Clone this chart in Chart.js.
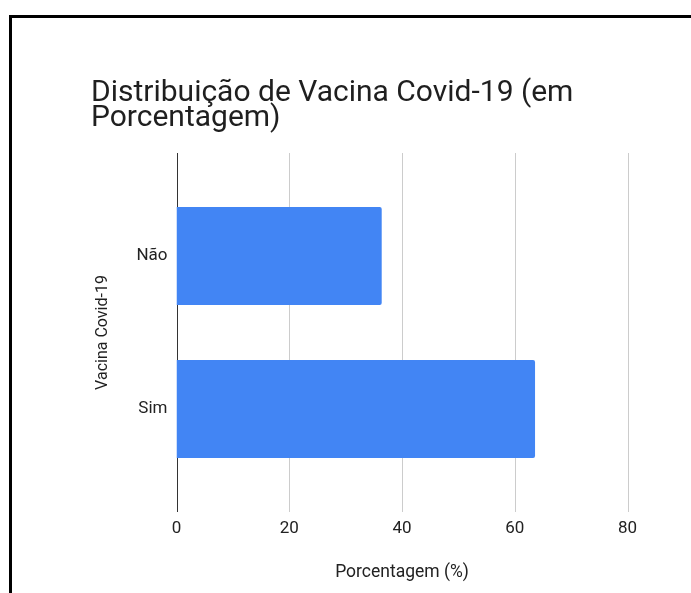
<!DOCTYPE html>
<html>
<head>
<meta charset="utf-8">
<script src="https://cdn.jsdelivr.net/npm/chart.js@4"></script>
<style>
  html, body { margin: 0; padding: 0; background: #fff; }
  #wrap { position: relative; width: 691px; height: 593px; overflow: hidden; }
  #frame { position: absolute; left: 9px; top: 15px; width: 800px; height: 700px;
           border-left: 3px solid #000; border-top: 3px solid #000; }
  canvas { position: absolute; left: 0; top: 0; }
</style>
</head>
<body>
<div id="wrap">
  <div id="frame"></div>
  <canvas id="chart" width="691" height="593"></canvas>
</div>
<script>
// chart data
const titleLines = ['Distribuição de Vacina Covid-19 (em', 'Porcentagem)'];
const categories = ['Não', 'Sim'];
const percentages = [36.4, 63.6];
const xTitle = 'Porcentagem (%)';
const yTitle = 'Vacina Covid-19';
const xMin = 0;
const xMax = 80;
const xStep = 20;

// vertical grid lines run a bit past the bars, like the original chart
const gridLines = {
    id: 'gridLines',
    beforeDatasetsDraw(chart) {
        const { ctx, chartArea, scales } = chart;
        const xs = scales.x;
        const ext = 26.5;
        ctx.save();
        xs.ticks.forEach(t => {
            const x = Math.round(xs.getPixelForValue(t.value)) + 0.5;
            ctx.strokeStyle = t.value === 0 ? '#333333' : '#cccccc';
            ctx.lineWidth = 1;
            ctx.beginPath();
            ctx.moveTo(x, chartArea.top - ext);
            ctx.lineTo(x, chartArea.bottom + ext);
            ctx.stroke();
        });
        ctx.restore();
    }
};

const ctx = document.getElementById('chart').getContext('2d');
new Chart(ctx, {
    type: 'bar',
    data: {
        labels: categories,
        datasets: [{
            label: 'Porcentagem',
            data: percentages,
            backgroundColor: '#4285f4',
            borderRadius: 2,
            borderSkipped: 'start',
            barPercentage: 0.64,
            categoryPercentage: 1
        }]
    },
    options: {
        indexAxis: 'y',
        responsive: false,
        animation: false,
        layout: { padding: { left: 91, right: 63.5, top: 0, bottom: 10 } },
        plugins: {
            legend: { display: false },
            tooltip: { enabled: false },
            title: {
                display: true,
                text: titleLines,
                align: 'start',
                color: '#1f1f1f',
                font: { family: 'Roboto', size: 30, weight: 'normal', lineHeight: 25 / 30 },
                padding: { top: 80.5, bottom: 49 }
            }
        },
        scales: {
            x: {
                min: xMin,
                max: xMax,
                ticks: { stepSize: xStep, color: '#222222', padding: 33.5,
                         font: { family: 'Roboto', size: 17 } },
                grid: { display: false, drawTicks: false },
                border: { display: false },
                title: { display: true, text: xTitle, color: '#222222',
                         font: { family: 'Roboto', size: 17.5 }, padding: 0 },
                afterFit(scale) { scale.height = 97.5; }
            },
            y: {
                ticks: { color: '#222222', padding: 9,
                         font: { family: 'Roboto', size: 17 } },
                grid: { display: false, drawTicks: false },
                border: { display: false },
                title: { display: true, text: yTitle, color: '#1f1f1f',
                         font: { family: 'Roboto', size: 16 }, padding: { top: 2, bottom: 0 } },
                afterFit(scale) { scale.width = 85.5; }
            }
        }
    },
    plugins: [gridLines]
});
</script>
</body>
</html>
